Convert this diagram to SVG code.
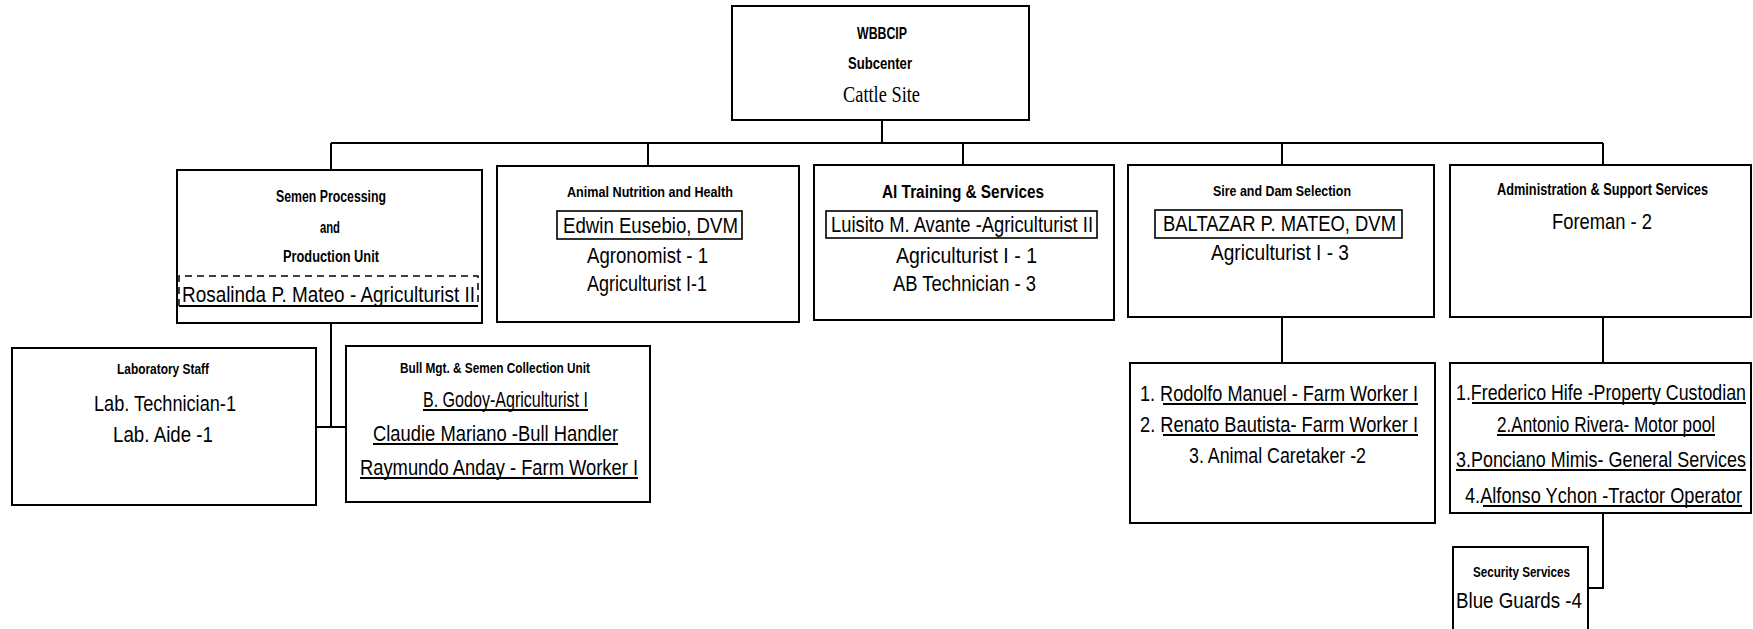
<svg xmlns="http://www.w3.org/2000/svg" width="1753" height="629" viewBox="0 0 1753 629">
<style>
.box{fill:#fff;stroke:#000;stroke-width:2}
.br{fill:none;stroke:#000;stroke-width:1.6}
.dash{fill:none;stroke:#000;stroke-width:1.5;stroke-dasharray:7 5}
.ln{stroke:#000;stroke-width:2;fill:none}
.ul{stroke:#000;stroke-width:1.8}
.h{font-family:"Liberation Sans",Arial,sans-serif;font-weight:bold;fill:#000}
.t{font-family:"Liberation Sans",Arial,sans-serif;font-size:22px;fill:#000}
.tn{font-family:"Liberation Sans",Arial,sans-serif;font-size:18px;fill:#000}
.s{font-family:"Liberation Serif","Times New Roman",serif;font-size:24px;fill:#000}
</style>
<rect width="1753" height="629" fill="#fff"/>
<g id="connectors">
<path class="ln" d="M882 120V143M331 143H1603M331 143V170M648 143V166M963 143V165M1282 143V165M1603 143V165"/>
<path class="ln" d="M331 323V427M316 427H346"/>
<path class="ln" d="M1282 317V363M1603 317V363M1603 513V588H1588"/>
</g>
<g id="top">
<rect class="box" x="732" y="6" width="297" height="114"/>
<text class="h" font-size="17" x="857" y="39" textLength="50" lengthAdjust="spacingAndGlyphs">WBBCIP</text>
<text class="h" font-size="17" x="848" y="69" textLength="64" lengthAdjust="spacingAndGlyphs">Subcenter</text>
<text class="s" x="843" y="102" textLength="77" lengthAdjust="spacingAndGlyphs">Cattle Site</text>
</g>
<g id="semen">
<rect class="box" x="177" y="170" width="305" height="153"/>
<text class="h" font-size="16" x="276" y="202" textLength="110" lengthAdjust="spacingAndGlyphs">Semen Processing</text>
<text class="h" font-size="16" x="320" y="233" textLength="20" lengthAdjust="spacingAndGlyphs">and</text>
<text class="h" font-size="16" x="283" y="262" textLength="96" lengthAdjust="spacingAndGlyphs">Production Unit</text>
<path class="dash" d="M179 306V276H478V306"/>
<line class="ul" x1="179" y1="306" x2="478" y2="306"/>
<text class="t" x="182" y="302" textLength="293" lengthAdjust="spacingAndGlyphs">Rosalinda P. Mateo - Agriculturist II</text>
</g>
<g id="nutrition">
<rect class="box" x="497" y="166" width="302" height="156"/>
<text class="h" font-size="15" x="567" y="197" textLength="166" lengthAdjust="spacingAndGlyphs">Animal Nutrition and Health</text>
<rect class="br" x="557" y="211" width="185" height="28"/>
<text class="t" x="563" y="233" textLength="175" lengthAdjust="spacingAndGlyphs">Edwin Eusebio, DVM</text>
<text class="t" x="587" y="263" textLength="121" lengthAdjust="spacingAndGlyphs">Agronomist - 1</text>
<text class="t" x="587" y="291" textLength="120" lengthAdjust="spacingAndGlyphs">Agriculturist I-1</text>
</g>
<g id="ai">
<rect class="box" x="814" y="165" width="300" height="155"/>
<text class="h" font-size="18" x="882" y="198" textLength="162" lengthAdjust="spacingAndGlyphs">AI Training &amp; Services</text>
<rect class="br" x="826" y="211" width="271" height="27"/>
<text class="t" x="831" y="232" textLength="262" lengthAdjust="spacingAndGlyphs">Luisito M. Avante -Agriculturist II</text>
<text class="t" x="896" y="263" textLength="141" lengthAdjust="spacingAndGlyphs">Agriculturist I - 1</text>
<text class="t" x="893" y="291" textLength="143" lengthAdjust="spacingAndGlyphs">AB Technician - 3</text>
</g>
<g id="sire">
<rect class="box" x="1128" y="165" width="306" height="152"/>
<text class="h" font-size="15" x="1213" y="196" textLength="138" lengthAdjust="spacingAndGlyphs">Sire and Dam Selection</text>
<rect class="br" x="1155" y="210" width="247" height="28"/>
<text class="t" x="1163" y="231" textLength="233" lengthAdjust="spacingAndGlyphs">BALTAZAR P. MATEO, DVM</text>
<text class="t" x="1211" y="260" textLength="138" lengthAdjust="spacingAndGlyphs">Agriculturist I -  3</text>
</g>
<g id="admin">
<rect class="box" x="1450" y="165" width="301" height="152"/>
<text class="h" font-size="13" transform="translate(1497 195) scale(1 1.23)" textLength="211" lengthAdjust="spacingAndGlyphs">Administration &amp; Support Services</text>
<text class="t" x="1552" y="229" textLength="100" lengthAdjust="spacingAndGlyphs">Foreman - 2</text>
</g>
<g id="lab">
<rect class="box" x="12" y="348" width="304" height="157"/>
<text class="h" font-size="14" x="117" y="374" textLength="92" lengthAdjust="spacingAndGlyphs">Laboratory Staff</text>
<text class="t" x="94" y="411" textLength="142" lengthAdjust="spacingAndGlyphs">Lab. Technician-1</text>
<text class="t" x="113" y="442" textLength="100" lengthAdjust="spacingAndGlyphs">Lab. Aide -1</text>
</g>
<g id="bull">
<rect class="box" x="346" y="346" width="304" height="156"/>
<text class="h" font-size="14" x="400" y="373" textLength="190" lengthAdjust="spacingAndGlyphs">Bull Mgt. &amp; Semen Collection Unit</text>
<text class="t" x="423" y="407" textLength="165" lengthAdjust="spacingAndGlyphs">B. Godoy-Agriculturist I</text>
<line class="ul" x1="423" y1="410" x2="588" y2="410"/>
<text class="t" x="373" y="441" textLength="245" lengthAdjust="spacingAndGlyphs">Claudie Mariano -Bull Handler</text>
<line class="ul" x1="373" y1="444" x2="618" y2="444"/>
<text class="t" x="360" y="475" textLength="278" lengthAdjust="spacingAndGlyphs">Raymundo Anday - Farm Worker I</text>
<line class="ul" x1="360" y1="478" x2="638" y2="478"/>
</g>
<g id="sire-staff">
<rect class="box" x="1130" y="363" width="305" height="160"/>
<text class="t" x="1140" y="401" textLength="278" lengthAdjust="spacingAndGlyphs">1. Rodolfo Manuel - Farm Worker I</text>
<line class="ul" x1="1163" y1="404" x2="1418" y2="404"/>
<text class="t" x="1140" y="432" textLength="278" lengthAdjust="spacingAndGlyphs">2. Renato Bautista- Farm Worker I</text>
<line class="ul" x1="1163" y1="435" x2="1418" y2="435"/>
<text class="t" x="1189" y="463" textLength="177" lengthAdjust="spacingAndGlyphs">3. Animal Caretaker -2</text>
</g>
<g id="admin-staff">
<rect class="box" x="1450" y="363" width="301" height="150"/>
<text class="tn" transform="translate(1456 400) scale(1 1.22)" textLength="290" lengthAdjust="spacingAndGlyphs">1.Frederico Hife -Property Custodian</text>
<line class="ul" x1="1472" y1="403" x2="1746" y2="403"/>
<text class="tn" transform="translate(1497 432) scale(1 1.22)" textLength="218" lengthAdjust="spacingAndGlyphs">2.Antonio Rivera- Motor pool</text>
<line class="ul" x1="1497" y1="435" x2="1715" y2="435"/>
<text class="tn" transform="translate(1456 467) scale(1 1.22)" textLength="290" lengthAdjust="spacingAndGlyphs">3.Ponciano Mimis- General Services</text>
<line class="ul" x1="1456" y1="470" x2="1746" y2="470"/>
<text class="tn" transform="translate(1465 503) scale(1 1.22)" textLength="277" lengthAdjust="spacingAndGlyphs">4.Alfonso Ychon -Tractor Operator</text>
<line class="ul" x1="1483" y1="506" x2="1742" y2="506"/>
</g>
<g id="security">
<rect class="box" x="1453" y="547" width="135" height="100"/>
<text class="h" font-size="14" x="1473" y="577" textLength="97" lengthAdjust="spacingAndGlyphs">Security Services</text>
<text class="t" x="1456" y="608" textLength="126" lengthAdjust="spacingAndGlyphs">Blue Guards -4</text>
</g>
</svg>
